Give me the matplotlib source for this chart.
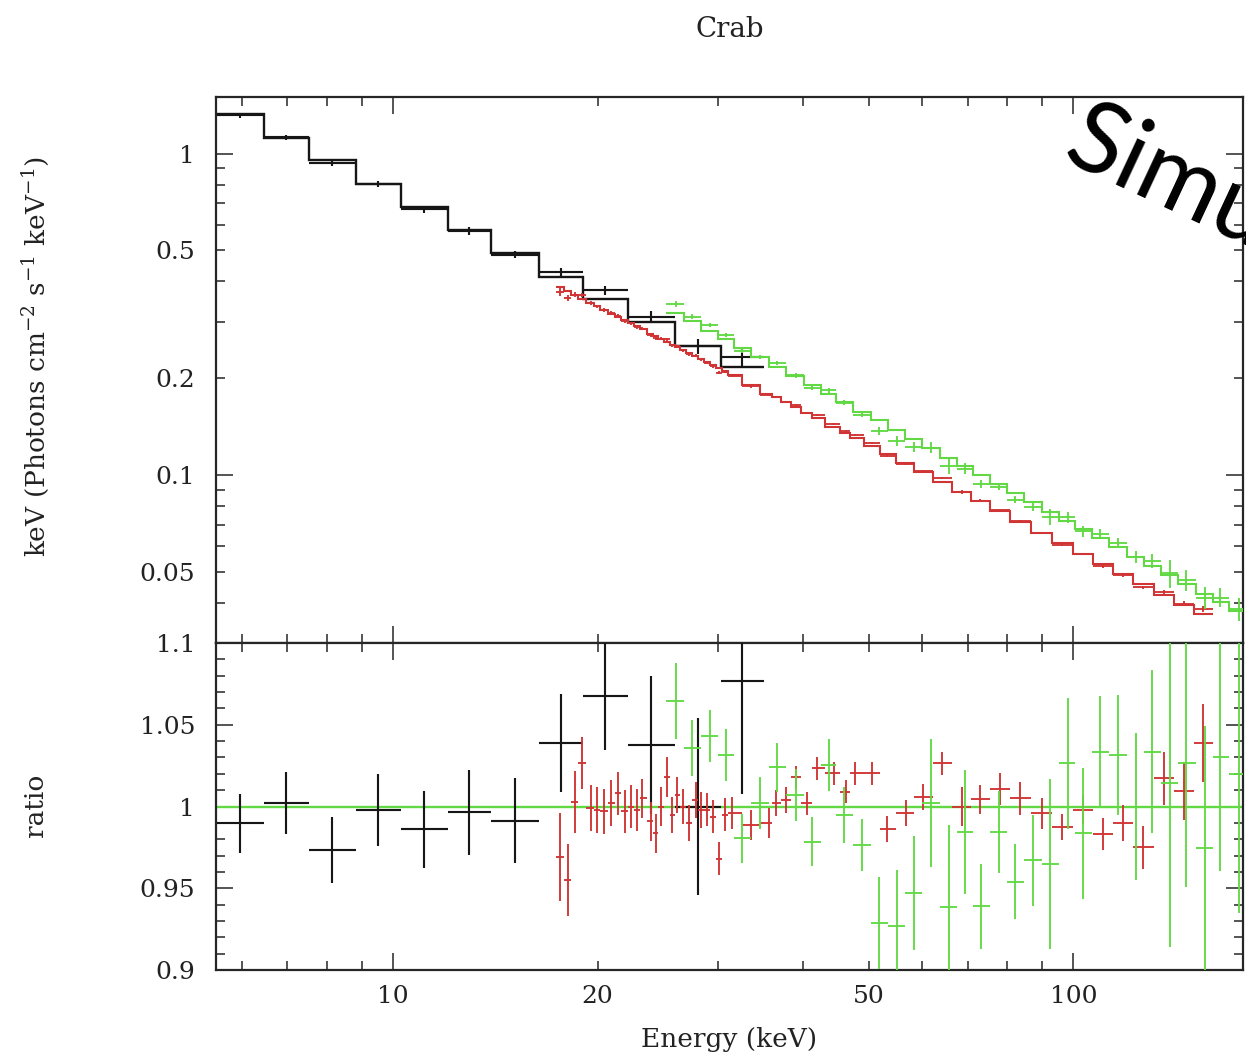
import numpy as np
import matplotlib
matplotlib.use("Agg")
import matplotlib.pyplot as plt
from matplotlib.ticker import FixedLocator, FixedFormatter, NullFormatter, FuncFormatter

# low energy instrument (black): bin edges in keV, model flux, data/model ratio
blk_edges = [5.51, 6.47, 7.53, 8.83, 10.27, 12.04, 13.93, 16.39, 19.01, 22.13, 25.94, 30.31, 35.05]
blk_model = [1.331, 1.121, 0.958, 0.807, 0.680, 0.577, 0.489, 0.412, 0.352, 0.299, 0.2516, 0.2165]
blk_ratio = [0.9897, 1.002, 0.9734, 0.998, 0.986, 0.9964, 0.9913, 1.0387, 1.0676, 1.0376, 1.0, 1.0768]
blk_err = [0.018, 0.019, 0.020, 0.022, 0.0235, 0.026, 0.026, 0.030, 0.033, 0.042, 0.054, 0.069]

# second instrument (red)
red_centers = [17.59, 18.07, 18.54, 18.95, 19.54, 19.93, 20.41, 20.95, 21.40, 21.91,
               22.36, 22.82, 23.27, 23.93, 24.34, 24.75, 25.26, 25.75, 26.19, 26.72,
               27.21, 27.86, 28.33, 28.98, 29.58, 30.11, 30.73, 31.54, 33.63, 35.66,
               36.51, 37.77, 39.07, 40.64, 42.04, 44.42, 46.26, 47.84, 50.63, 53.26,
               56.67, 60.17, 64.15, 68.64, 73.03, 78.14, 83.60, 89.96, 96.23, 103.4,
               110.7, 118.4, 126.7, 136.0, 145.6, 155.2]
red_lo, red_hi = 17.35, 160.5
red_model = [0.3836, 0.3726, 0.3625, 0.3540, 0.3425, 0.3350, 0.3267, 0.3176, 0.3103, 0.3027,
             0.2961, 0.2897, 0.2838, 0.2753, 0.2704, 0.2655, 0.2598, 0.2544, 0.2498, 0.2444,
             0.2398, 0.2337, 0.2295, 0.2239, 0.2191, 0.2149, 0.2103, 0.2045, 0.1909, 0.1792,
             0.1747, 0.1684, 0.1624, 0.1557, 0.1501, 0.1414, 0.1354, 0.1305, 0.1229, 0.1163,
             0.1088, 0.1020, 0.0953, 0.0886, 0.0829, 0.0770, 0.0716, 0.0662, 0.0615, 0.0569,
             0.0529, 0.0492, 0.0458, 0.0424, 0.0394, 0.0368]
red_ratio = [0.969, 0.955, 1.003, 1.0266, 0.999, 0.998, 0.997, 1.002, 1.008, 0.997,
             1.000, 0.998, 1.005, 0.991, 0.9836, 1.000, 1.018, 0.9948, 1.007, 1.000,
             0.990, 1.004, 0.998, 0.998, 0.9938, 0.968, 0.995, 0.996, 0.9887, 0.990,
             1.002, 1.004, 1.018, 1.002, 1.0234, 1.0203, 1.009, 1.0203, 1.0203, 0.986,
             0.996, 1.006, 1.0264, 1.000, 1.0044, 1.0105, 1.005, 0.9958, 0.9877, 0.998,
             0.983, 0.990, 0.975, 1.0172, 1.0095, 1.0387]
red_err = [0.027, 0.022, 0.019, 0.016, 0.014, 0.014, 0.014, 0.014, 0.013, 0.013,
           0.013, 0.013, 0.012, 0.012, 0.012, 0.012, 0.012, 0.011, 0.011, 0.011,
           0.011, 0.011, 0.011, 0.010, 0.010, 0.010, 0.010, 0.010, 0.009, 0.009,
           0.008, 0.008, 0.007, 0.007, 0.007, 0.007, 0.007, 0.007, 0.007, 0.008,
           0.008, 0.008, 0.007, 0.012, 0.009, 0.0097, 0.010, 0.0097, 0.008, 0.009,
           0.0097, 0.011, 0.013, 0.016, 0.018, 0.024]

# third instrument (green)
grn_centers = [26.04, 27.55, 29.20, 30.84, 32.62, 34.62, 36.72, 39.07, 41.33, 43.72,
               45.99, 48.96, 51.77, 55.09, 58.27, 61.68, 65.60, 69.41, 73.20, 77.70,
               82.19, 87.26, 92.52, 98.12, 103.3, 109.6, 116.2, 123.4, 130.5, 138.5,
               146.5, 156.3, 164.4, 174.9]
grn_lo, grn_hi = 25.17, 180.7
grn_model = [0.3201, 0.3005, 0.2813, 0.2646, 0.2484, 0.2323, 0.2175, 0.2028, 0.1903, 0.1787,
             0.1688, 0.1573, 0.1478, 0.1377, 0.1293, 0.1214, 0.1132, 0.1063, 0.1001, 0.0935,
             0.0879, 0.0821, 0.0768, 0.0720, 0.0679, 0.0635, 0.0595, 0.0556, 0.0522, 0.0488,
             0.0458, 0.0426, 0.0403, 0.0376]
grn_ratio = [1.0645, 1.0356, 1.043, 1.0315, 0.9805, 1.0023, 1.024, 1.007, 0.9785, 1.0254,
             0.9948, 0.9765, 0.9286, 0.927, 0.947, 1.0023, 0.9387, 0.9846, 0.9391, 0.9846,
             0.954, 0.967, 0.965, 1.0264, 0.9836, 1.0335, 1.0315, 1.0, 1.0335, 1.0142,
             1.0268, 0.9744, 1.0305, 1.02]
grn_err = [0.023, 0.017, 0.016, 0.016, 0.015, 0.016, 0.015, 0.016, 0.015, 0.016,
           0.017, 0.016, 0.028, 0.034, 0.035, 0.039, 0.05, 0.038, 0.026, 0.025,
           0.023, 0.028, 0.052, 0.040, 0.040, 0.034, 0.037, 0.045, 0.05, 0.1,
           0.076, 0.075, 0.07, 0.085]

BLACK = "#161616"
RED = "#d03434"
GREEN = "#62d944"
FRAME = "#262626"
TXT = "#222222"

plt.rcParams["font.family"] = "DejaVu Serif"
plt.rcParams["mathtext.fontset"] = "dejavuserif"


def edges_from_centers(c, lo, hi):
    c = np.asarray(c, dtype=float)
    return np.concatenate([[lo], np.sqrt(c[:-1] * c[1:]), [hi]])


def plot_set(ax_top, ax_bot, edges, ctr, model, ratio, err, col, lw):
    edges = np.asarray(edges, dtype=float)
    ctr = np.asarray(ctr, dtype=float)
    model = np.asarray(model)
    ratio = np.asarray(ratio)
    err = np.asarray(err)
    xerr = [ctr - edges[:-1], edges[1:] - ctr]
    ax_top.stairs(model, edges, baseline=None, color=col, lw=lw, zorder=3)
    ax_top.errorbar(ctr, ratio * model, xerr=xerr, yerr=err * model, fmt="none",
                    ecolor=col, elinewidth=lw * 0.9, capsize=0, zorder=3)
    ax_bot.errorbar(ctr, ratio, xerr=xerr, yerr=err, fmt="none",
                    ecolor=col, elinewidth=lw * 0.9, capsize=0, zorder=3)


def style_axis(ax):
    ax.tick_params(which="both", direction="in", top=True, right=True,
                   width=1.1, color=FRAME, labelsize=18, labelcolor=TXT)
    ax.tick_params(which="major", length=12)
    ax.tick_params(which="minor", length=6.5)
    ax.tick_params(axis="x", which="both", pad=11)
    ax.tick_params(axis="y", which="both", pad=15)
    for s in ax.spines.values():
        s.set_linewidth(1.6)
        s.set_color(FRAME)


fig = plt.figure(figsize=(12.46, 10.6), dpi=100)
ax1 = fig.add_axes([0.1734, 0.3934, 0.8242, 0.5151])
ax2 = fig.add_axes([0.1734, 0.0849, 0.8242, 0.3085])

blk_ctr = np.sqrt(np.asarray(blk_edges[:-1]) * np.asarray(blk_edges[1:]))
plot_set(ax1, ax2, blk_edges, blk_ctr, blk_model, blk_ratio, blk_err, BLACK, 1.7)
plot_set(ax1, ax2, edges_from_centers(red_centers, red_lo, red_hi), red_centers,
         red_model, red_ratio, red_err, RED, 1.5)
plot_set(ax1, ax2, edges_from_centers(grn_centers, grn_lo, grn_hi), grn_centers,
         grn_model, grn_ratio, grn_err, GREEN, 1.5)

ax2.axhline(1.0, color=GREEN, lw=1.7, zorder=2)

xmaj = [10, 100]
xmin = [6, 7, 8, 9, 20, 30, 40, 50, 60, 70, 80, 90]
for ax in (ax1, ax2):
    ax.set_xscale("log")
    ax.set_xlim(5.5, 177.5)
    ax.xaxis.set_major_locator(FixedLocator(xmaj))
    ax.xaxis.set_minor_locator(FixedLocator(xmin))
    style_axis(ax)

ax1.xaxis.set_major_formatter(NullFormatter())
ax1.xaxis.set_minor_formatter(NullFormatter())
ax2.xaxis.set_major_formatter(FixedFormatter(["10", "100"]))
ax2.xaxis.set_minor_formatter(FuncFormatter(
    lambda v, _: {20: "20", 50: "50"}.get(int(round(v)), "")))

ax1.set_yscale("log")
ax1.set_ylim(0.03, 1.5)
ax1.yaxis.set_major_locator(FixedLocator([0.1, 1]))
ax1.yaxis.set_minor_locator(FixedLocator([0.03, 0.04, 0.05, 0.06, 0.07, 0.08, 0.09,
                                          0.2, 0.3, 0.4, 0.5, 0.6, 0.7, 0.8, 0.9]))
ax1.yaxis.set_major_formatter(FixedFormatter(["0.1", "1"]))
ax1.yaxis.set_minor_formatter(FuncFormatter(
    lambda v, _: {0.05: "0.05", 0.2: "0.2", 0.5: "0.5"}.get(round(v, 2), "")))

ax2.set_ylim(0.9, 1.1)
ax2.yaxis.set_major_locator(FixedLocator([0.9, 0.95, 1.0, 1.05, 1.1]))
ax2.yaxis.set_minor_locator(FixedLocator(np.arange(0.90, 1.105, 0.01)))
ax2.yaxis.set_major_formatter(FixedFormatter(["0.9", "0.95", "1", "1.05", "1.1"]))

fig.text(0.5855, 0.9717, "Crab", ha="center", va="center", fontsize=20, color=TXT)
fig.text(0.0281, 0.6632, r"keV (Photons cm$^{-2}$ s$^{-1}$ keV$^{-1}$)", rotation=90,
         ha="center", va="center", fontsize=19, color=TXT)
fig.text(0.0281, 0.2406, "ratio", rotation=90, ha="center", va="center",
         fontsize=19, color=TXT)
fig.text(0.5855, 0.0189, "Energy (keV)", ha="center", va="center",
         fontsize=19, color=TXT)

# slide overlay text, cut by the right edge of the picture
fig.text(1060 / 1246, 1 - 160 / 1060, "Simulation", rotation=-25, rotation_mode="anchor",
         ha="left", va="baseline", fontsize=72, family="Lato", color="black", zorder=10)

fig.savefig("out.png", dpi=100)
